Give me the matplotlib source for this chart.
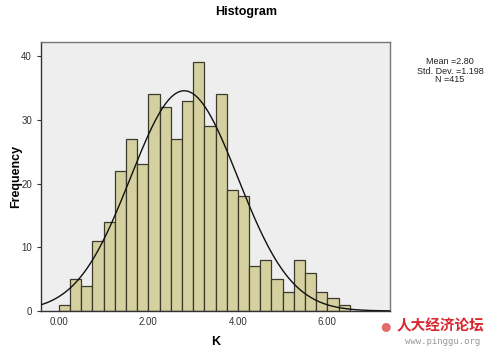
import numpy as np
import matplotlib.pyplot as plt

# histogram of K, bin width 0.25 starting at 0.00
bin_starts = [i * 0.25 for i in range(26)]
counts = [1, 5, 4, 11, 14, 22, 27, 23, 34, 32, 27, 33, 39, 29, 34,
          19, 18, 7, 8, 5, 3, 8, 6, 3, 2, 1]
mean = 2.80
std = 1.198
n = 415
bin_width = 0.25

xticks = [0, 2, 4, 6]
yticks = [0, 10, 20, 30, 40]

plt.rcParams['font.family'] = ['Liberation Sans', 'DejaVu Sans']

fig = plt.figure(figsize=(4.9, 3.52), dpi=100)
ax = fig.add_axes([41 / 490, 1 - 311 / 352, 349 / 490, 269 / 352])
ax.set_facecolor('#eeeeee')

ax.bar(bin_starts, counts, width=bin_width, align='edge',
       color='#d4d0a0', edgecolor='#3c3a2c', linewidth=0.9, zorder=2)

xs = np.linspace(-0.4, 7.4, 400)
ys = n * bin_width / (std * np.sqrt(2 * np.pi)) * np.exp(-0.5 * ((xs - mean) / std) ** 2)
ax.plot(xs, ys, color='#111111', linewidth=1.0, zorder=3)

ax.set_xlim(-0.4, 7.4)
ax.set_ylim(0, 42.2)
ax.set_xticks(xticks)
ax.set_xticklabels([f"{v:.2f}" for v in xticks])
ax.set_yticks(yticks)
ax.tick_params(axis='both', labelsize=7, colors='#333333', length=3, width=0.8)
ax.tick_params(axis='x', length=0, pad=4)
for s in ax.spines.values():
    s.set_color('#777777')
    s.set_linewidth(1.0)
ax.spines['bottom'].set_color('#333333')
ax.spines['left'].set_color('#333333')

ax.set_xlabel("K", fontsize=9, fontweight='bold', labelpad=7)
fig.text(16 / 490, 1 - 176 / 352, "Frequency", fontsize=9, fontweight='bold',
         rotation=90, ha='center', va='center')
fig.text(246 / 490, 1 - 12 / 352, "Histogram", fontsize=9, fontweight='bold',
         ha='center', va='center')

fig.text(450 / 490, 1 - 71 / 352,
         f"Mean ={mean:.2f}\nStd. Dev. ={std:.3f}\nN ={n}",
         fontsize=6.5, ha='center', va='center', linespacing=1.0, color='#222222')

# watermark
fig.text(386 / 490, 1 - 327 / 352, "●", fontsize=15, color='#e46a6a',
         ha='center', va='center')
fig.text(440 / 490, 1 - 325 / 352, "人大经济论坛", fontsize=10.5, fontweight='bold',
         color='#d9272e', ha='center', va='center',
         family=['Noto Sans CJK SC', 'DejaVu Sans'])
fig.text(443 / 490, 1 - 341 / 352, "www.pinggu.org", fontsize=6.5,
         color='#999999', ha='center', va='center', family='DejaVu Sans Mono')

fig.savefig("out.png", dpi=100)
